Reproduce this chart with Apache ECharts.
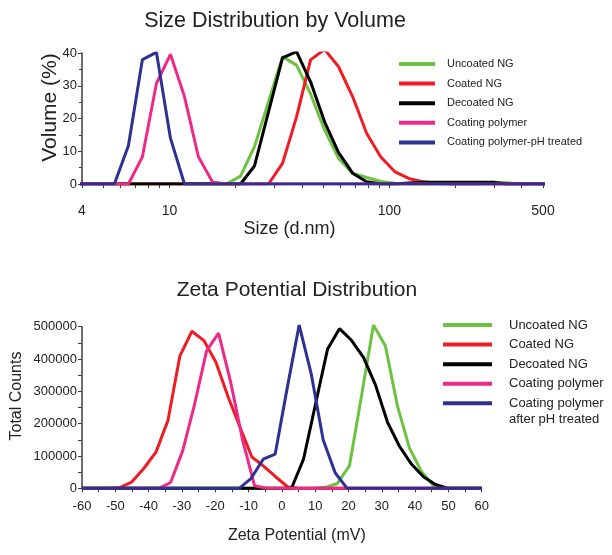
<!DOCTYPE html>
<html><head><meta charset="utf-8">
<script src="https://cdn.jsdelivr.net/npm/echarts@6/dist/echarts.min.js"></script>
<style>html,body{margin:0;padding:0;background:#fff}#c{width:612px;height:555px}</style>
</head><body><div id="c"></div>
<script>
// ---------- shared ----------
const namesTop = ['Uncoated NG', 'Coated NG', 'Decoated NG', 'Coating polymer', 'Coating polymer-pH treated'];
const namesBottom = ['Uncoated NG', 'Coated NG', 'Decoated NG', 'Coating polymer', 'Coating polymer\nafter pH treated'];
const colors = ['#6DC23F', '#EE1C24', '#000000', '#EC2A8A', '#2E3192'];

// ---------- Size distribution by volume ----------
const sizeBins = [3.62, 4.19, 4.85, 5.615, 6.503, 7.531, 8.721, 10.10, 11.70, 13.54, 15.69, 18.17, 21.04, 24.36, 28.21, 32.67, 37.84, 43.82, 50.75, 58.77, 68.06, 78.82, 91.28, 105.7, 122.4, 141.8, 164.2, 190.1, 220.2, 255.0, 295.3, 342.0, 396.1, 458.7, 531.2];
const volUncoated = [0,0,0,0,0,0,0,0,0,0,0,0, 2.4, 11.4, 25.1, 38.9, 36.3, 27.5, 16.5, 7.8, 3.3, 2.0, 0.8, 0.2, 0, 0, 0, 0, 0, 0, 0.5, 0.4, 0, 0, 0];
const volCoated = [0,0,0,0,0,0,0,0,0,0,0,0, 0, 0, 0, 6.3, 20.5, 37.9, 41.1, 35.8, 26.7, 15.5, 8.3, 3.8, 1.7, 0.7, 0.3, 0, 0, 0, 0, 0, 0, 0, 0];
const volDecoated = [0,0,0,0,0,0,0,0,0,0,0,0, 0, 5.5, 22, 38.5, 40.4, 31.2, 19, 9.6, 3.3, 0.7, 0, 0, 0.3, 0.5, 0.5, 0.5, 0.5, 0.5, 0.5, 0, 0, 0, 0];
const volPolymer = [0,0,0,0, 0, 8.3, 30.7, 39.6, 26.7, 8.3, 0.6, 0, 0,0,0,0,0,0,0,0,0,0,0,0,0,0,0,0,0,0,0,0,0,0,0];
const volPolymerPH = [0,0,0, 0, 11.7, 38, 40.2, 14, 0, 0,0,0,0,0,0,0,0,0,0,0,0,0,0,0,0,0,0,0,0,0,0,0,0,0,0];
const sizeLabelTicks = [4, 10, 100, 500];
const sizeMinorTicks = [4,5,6,7,8,9,10,20,30,40,50,60,70,80,90,100,200,300,400,500];

// ---------- Zeta potential distribution ----------
const zetaUncoatedX = [-60, 9.5, 13.1, 16.7, 20.3, 23.9, 27.5, 31.1, 34.7, 38.3, 41.9, 45.5, 49.1, 60];
const zetaUncoatedY = [0, 0, 3000, 15000, 70000, 285000, 505000, 440000, 255000, 125000, 52000, 8000, 0, 0];
const zetaCoatedX = [-60, -52.2, -48.6, -45, -41.4, -37.8, -34.2, -30.6, -27, -23.4, -19.8, -16.2, -12.6, -9, -5.4, -1.8, 1.8, 5.4, 60];
const zetaCoatedY = [0, 0, 2000, 20000, 62000, 112000, 210000, 410000, 486000, 457000, 390000, 285000, 190000, 97000, 68000, 35000, 4000, 0, 0];
const zetaDecoatedX = [-60, 2.9, 6.5, 10.1, 13.7, 17.3, 20.9, 24.5, 28.1, 31.7, 35.3, 38.9, 42.5, 46.1, 49.7, 60];
const zetaDecoatedY = [0, 0, 90000, 260000, 430000, 494000, 458000, 405000, 320000, 205000, 130000, 75000, 36000, 12000, 0, 0];
const zetaPolymerX = [-60, -37, -33.4, -29.8, -26.2, -22.6, -19, -15.4, -11.8, -8.2, -4.6, 60];
const zetaPolymerY = [0, 0, 18000, 115000, 260000, 425000, 480000, 330000, 150000, 8000, 0, 0];
const zetaPolymerPHX = [-60, -12.8, -9.2, -5.6, -2, 1.6, 5.2, 8.8, 12.4, 16, 19.6, 60];
const zetaPolymerPHY = [0, 0, 31000, 90000, 106000, 310000, 505000, 355000, 150000, 48000, 0, 0];

const zetaX = [zetaUncoatedX, zetaCoatedX, zetaDecoatedX, zetaPolymerX, zetaPolymerPHX];
const zetaY = [zetaUncoatedY, zetaCoatedY, zetaDecoatedY, zetaPolymerY, zetaPolymerPHY];
const volY = [volUncoated, volCoated, volDecoated, volPolymer, volPolymerPH];

const FONT = 'Liberation Sans, Arial, sans-serif';
const TXT = '#222';
const AX = '#3a3a3a';

const chart = echarts.init(document.getElementById('c'), null, {renderer: 'canvas'});

const series = [];
volY.forEach((ys, i) => {
  series.push({
    name: namesTop[i], type: 'line', xAxisIndex: 0, yAxisIndex: 0,
    data: sizeBins.map((x, k) => [x, ys[k]]),
    symbol: 'none', lineStyle: {width: 3, color: colors[i]}, itemStyle: {color: colors[i]},
    z: 2 + i, clip: true
  });
});
zetaY.forEach((ys, i) => {
  series.push({
    name: namesBottom[i], type: 'line', xAxisIndex: 1, yAxisIndex: 1,
    data: zetaX[i].map((x, k) => [x, ys[k]]),
    symbol: 'none', lineStyle: {width: 3, color: colors[i]}, itemStyle: {color: colors[i]},
    z: 2 + i, clip: false
  });
});

const axisLineStyle = {show: true, onZero: false, lineStyle: {color: AX, width: 1.5}};

chart.setOption({
  animation: false,
  backgroundColor: '#fff',
  title: [
    {text: 'Size Distribution by Volume', left: 270, top: 5, textAlign: 'center',
     textStyle: {fontFamily: FONT, fontSize: 21.5, fontWeight: 'normal', color: TXT}},
    {text: 'Zeta Potential Distribution', left: 292, top: 275, textAlign: 'center',
     textStyle: {fontFamily: FONT, fontSize: 21, fontWeight: 'normal', color: TXT}}
  ],
  legend: [
    {data: namesTop, orient: 'vertical', left: 399, top: 57, padding: 0,
     itemWidth: 36, itemHeight: 4, itemGap: 5.6, icon: 'rect',
     textStyle: {fontFamily: 'Liberation Sans Narrow, Arial Narrow, sans-serif', fontSize: 11, lineHeight: 14, color: TXT, padding: [0, 0, 0, 7]}},
    {data: namesBottom.slice(0, 4), orient: 'vertical', left: 443, top: 317, padding: 0,
     itemWidth: 49, itemHeight: 4, itemGap: 3.6, icon: 'rect',
     textStyle: {fontFamily: FONT, fontSize: 13, lineHeight: 16, color: TXT, padding: [0, 0, 0, 12]}},
    {data: [namesBottom[4]], orient: 'vertical', left: 443, top: 379.2, padding: 0,
     itemWidth: 49, itemHeight: 4, icon: 'rect',
     formatter: name => '\n' + name,
     textStyle: {fontFamily: FONT, fontSize: 13, lineHeight: 16, color: TXT, padding: [0, 0, 0, 12]}}
  ],
  grid: [
    {left: 82, right: 69, top: 53, bottom: 371},
    {left: 82, right: 130.3, top: 326.7, bottom: 66.7}
  ],
  xAxis: [
    {type: 'log', gridIndex: 0, logBase: 10, min: 4, max: 500,
     name: 'Size (d.nm)', nameLocation: 'middle', nameGap: 36, nameMoveOverlap: false,
     nameTextStyle: {fontFamily: FONT, fontSize: 18, color: TXT, padding: [0, 46, 0, 0]},
     axisLine: axisLineStyle,
     axisTick: {show: true, length: 4, customValues: sizeMinorTicks, lineStyle: {color: AX}},
     axisLabel: {customValues: sizeLabelTicks, fontFamily: FONT, fontSize: 14, color: TXT, margin: 20},
     splitLine: {show: false}, minorTick: {show: false}},
    {type: 'value', gridIndex: 1, min: -60, max: 60, interval: 10,
     name: 'Zeta Potential (mV)', nameLocation: 'middle', nameGap: 39, nameMoveOverlap: false,
     nameTextStyle: {fontFamily: FONT, fontSize: 16, color: TXT, padding: [0, 0, 0, 30]},
     axisLine: axisLineStyle,
     axisTick: {show: true, length: 4, lineStyle: {color: AX}},
     minorTick: {show: true, splitNumber: 2, length: 4, lineStyle: {color: AX}},
     axisLabel: {fontFamily: FONT, fontSize: 13, color: TXT, margin: 12},
     splitLine: {show: false}}
  ],
  yAxis: [
    {type: 'value', gridIndex: 0, min: 0, max: 40, interval: 10,
     name: 'Volume (%)', nameLocation: 'middle', nameGap: 21, nameMoveOverlap: false,
     nameTextStyle: {fontFamily: FONT, fontSize: 21, color: TXT, padding: [0, 0, 0, 22]},
     axisLine: axisLineStyle,
     axisTick: {show: true, length: 4, lineStyle: {color: AX}},
     minorTick: {show: true, splitNumber: 2, length: 3, lineStyle: {color: AX}},
     axisLabel: {fontFamily: FONT, fontSize: 13, color: TXT, margin: 5},
     splitLine: {show: false}},
    {type: 'value', gridIndex: 1, min: 0, max: 500000, interval: 100000,
     name: 'Total Counts', nameLocation: 'middle', nameGap: 57, nameMoveOverlap: false,
     nameTextStyle: {fontFamily: FONT, fontSize: 16, color: TXT, padding: [0, 0, 0, 23]},
     axisLine: axisLineStyle,
     axisTick: {show: true, length: 4, lineStyle: {color: AX}},
     minorTick: {show: true, splitNumber: 2, length: 4, lineStyle: {color: AX}},
     axisLabel: {fontFamily: FONT, fontSize: 13, color: TXT, margin: 5, formatter: v => String(v)},
     splitLine: {show: false}}
  ],
  series: series
});
</script>
</body></html>
